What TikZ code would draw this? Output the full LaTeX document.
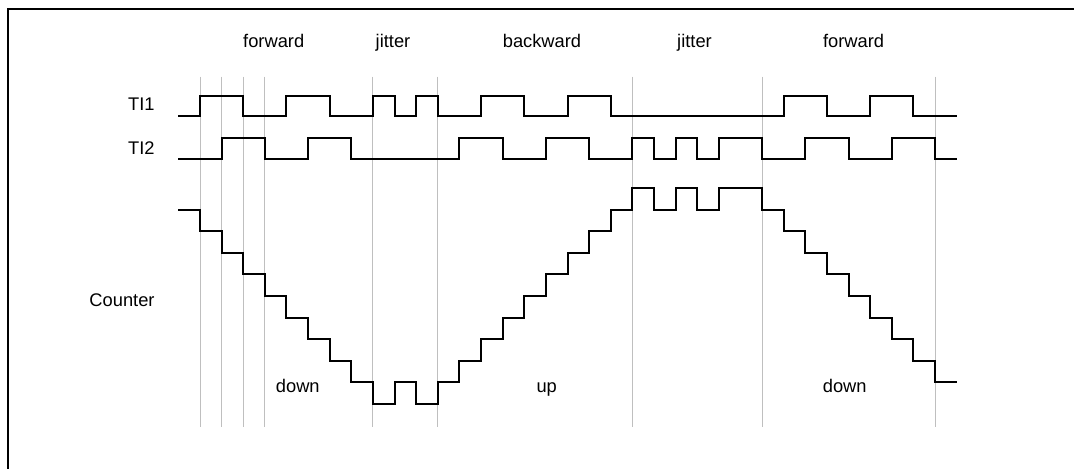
\documentclass[tikz,border=0pt]{standalone}
\usepackage{fontspec}
\setmainfont{Liberation Sans}
\usepackage{xcolor}
\usepackage{tikz}

\tikzset{
  wave/.style={line width=1pt},
  gridline/.style={draw=black!25, line width=0.5pt},
  frameline/.style={line width=1pt},
  lbl/.style={inner sep=0pt, font=\fontsize{9.15}{11}\selectfont}
}

\begin{document}
\begin{tikzpicture}[x=0.5pt,y=-0.5pt]
\useasboundingbox (0,0) rectangle (1074,468);
\clip (0,0) rectangle (1074,468);
% outer frame, cut off at right and bottom
\draw[frameline] (8,480) -- (8,9) -- (1090,9);

% phase labels
\node[lbl, anchor=base] (fwdA) at (273.7,47.5) {forward};
\node[lbl, anchor=base] (jitA) at (393,47.5) {jitter};
\node[lbl, anchor=base] (bwd) at (542,47.5) {backward};
\node[lbl, anchor=base] (jitB) at (694.5,47.5) {jitter};
\node[lbl, anchor=base] (fwdB) at (853.5,47.5) {forward};

% signal names
\node[lbl, anchor=base east] (ti1) at (155,110.7) {TI1};
\node[lbl, anchor=base east] (ti2) at (155,154) {TI2};
\node[lbl, anchor=base east] (cnt) at (155,306) {Counter};

% direction labels
\node[lbl, anchor=base] (dnA) at (297.8,392) {down};
\node[lbl, anchor=base] (upA) at (546.7,392) {up};
\node[lbl, anchor=base] (dnB) at (844.7,392) {down};

\begin{scope}[shift={(200,0)}, x=10.81pt]
% thin markers
\draw[gridline] (0,76.5) -- (0,427) (1,76.5) -- (1,427) (2,76.5) -- (2,427)
  (3,76.5) -- (3,427) (8,76.5) -- (8,427) (11,76.5) -- (11,427)
  (20,76.5) -- (20,427) (26,76.5) -- (26,427) (34,76.5) -- (34,427);

% TI1
\draw[wave] (-1,116) -- (0,116) |- (2,95.5) |- (4,116) |- (6,95.5) |- (8,116)
  |- (9,95.5) |- (10,116) |- (11,95.5) |- (13,116) |- (15,95.5) |- (17,116)
  |- (19,95.5) |- (27,116) |- (29,95.5) |- (31,116) |- (33,95.5) |- (35,116);

% TI2
\draw[wave] (-1,158.5) -- (1,158.5) |- (3,137.5) |- (5,158.5) |- (7,137.5)
  |- (12,158.5) |- (14,137.5) |- (16,158.5) |- (18,137.5) |- (20,158.5)
  |- (21,137.5) |- (22,158.5) |- (23,137.5) |- (24,158.5) |- (26,137.5)
  |- (28,158.5) |- (30,137.5) |- (32,158.5) |- (34,137.5) |- (35,158.5);

% counter
\begin{scope}[shift={(0,209.5)}, y=-10.8pt]
\draw[wave] (-1,0) -- (0,0) |- (1,1) |- (2,2) |- (3,3) |- (4,4) |- (5,5)
  |- (6,6) |- (7,7) |- (8,8) |- (9,9) |- (10,8) |- (11,9) |- (12,8)
  |- (13,7) |- (14,6) |- (15,5) |- (16,4) |- (17,3) |- (18,2) |- (19,1)
  |- (20,0) |- (21,-1) |- (22,0) |- (23,-1) |- (24,0) |- (26,-1) |- (27,0)
  |- (28,1) |- (29,2) |- (30,3) |- (31,4) |- (32,5) |- (33,6) |- (34,7)
  |- (35,8);
\end{scope}
\end{scope}
\end{tikzpicture}
\end{document}
